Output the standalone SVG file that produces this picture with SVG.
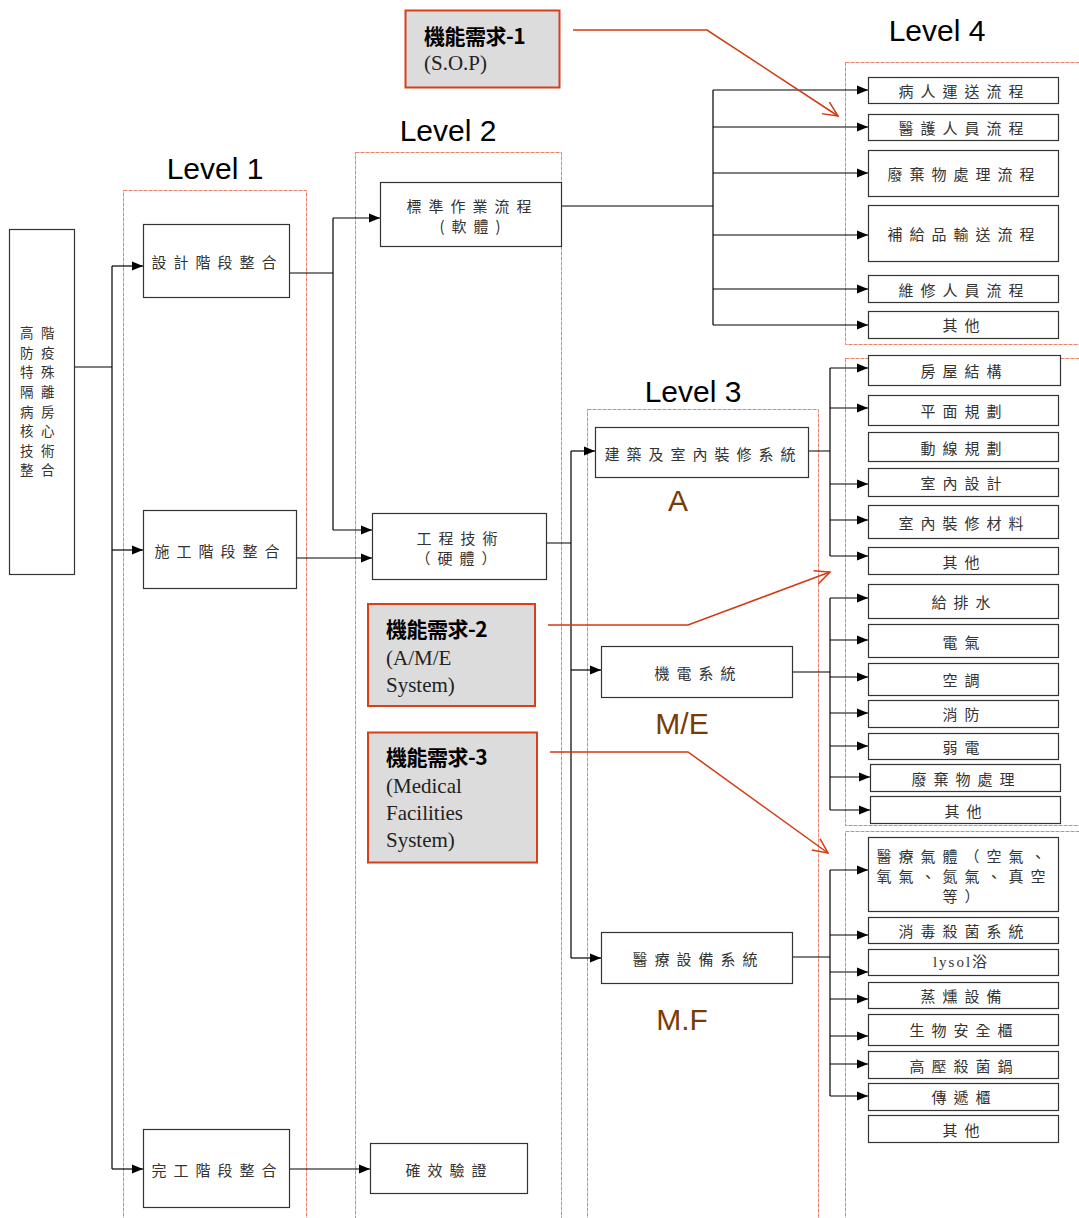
<svg xmlns="http://www.w3.org/2000/svg" width="1079" height="1218" viewBox="0 0 1079 1218">
<defs>
<marker id="ah" markerUnits="userSpaceOnUse" markerWidth="12" markerHeight="10" refX="11" refY="5" orient="auto"><path d="M0,0.5 L11,5 L0,9.5 Z" fill="#000"/></marker>
<marker id="rh" markerUnits="userSpaceOnUse" markerWidth="18" markerHeight="16" refX="15" refY="8" orient="auto"><path d="M0,1 L15,8 L0,15" fill="none" stroke="#d23a12" stroke-width="1.5"/></marker>
<style>
.frame{fill:none;stroke:#e8836d;stroke-width:1;stroke-dasharray:4 1}
.box{fill:#fff;stroke:#333;stroke-width:1.2}
.req{fill:#dcdcdc;stroke:#d6401a;stroke-width:2}
.t{font-family:"Noto Sans CJK TC","Noto Sans CJK SC",sans-serif;font-size:15px;fill:#333;letter-spacing:7px;text-anchor:middle;dominant-baseline:central}
.rt{font-family:"Noto Sans CJK TC",sans-serif;font-size:13.5px;fill:#333;letter-spacing:7.5px}
.lv{font-family:"Liberation Sans",Arial,sans-serif;font-size:30px;fill:#000;text-anchor:middle}
.sys{font-family:"Liberation Sans",Arial,sans-serif;font-size:30px;fill:#7a3c06;text-anchor:middle}
.rq{font-family:"Liberation Serif","Noto Sans CJK TC",serif;font-size:21px;fill:#222}
.rqb{font-family:"Noto Sans CJK TC",sans-serif;font-size:21px;font-weight:bold;fill:#000;letter-spacing:-0.5px}
.c{fill:none;stroke:#000;stroke-width:1.2}
.ca{fill:none;stroke:#000;stroke-width:1.2;marker-end:url(#ah)}
.r{fill:none;stroke:#d23a12;stroke-width:1.5;marker-end:url(#rh)}
</style>
</defs>
<rect width="1079" height="1218" fill="#fff"/>

<g id="frames">
<rect class="frame" x="123.5" y="190.5" width="183" height="1040"/>
<rect class="frame" x="355.5" y="152.5" width="206" height="1080"/>
<rect class="frame" x="587.5" y="409.5" width="231" height="820"/>
<rect class="frame" x="845.5" y="62.5" width="240" height="282"/>
<rect class="frame" x="845.5" y="358.5" width="240" height="467"/>
<rect class="frame" x="845.5" y="831.5" width="240" height="400"/>
<text class="lv" x="215" y="179">Level 1</text>
<text class="lv" x="448" y="141">Level 2</text>
<text class="lv" x="693" y="402">Level 3</text>
<text class="lv" x="937" y="41">Level 4</text>
<text class="sys" x="678" y="511">A</text>
<text class="sys" x="682" y="734">M/E</text>
<text class="sys" x="682" y="1030">M.F</text>
</g>

<g id="connectors">
<path class="c" d="M75,367 H112 M112,266 V1169"/>
<path class="ca" d="M112,266 H143"/>
<path class="ca" d="M112,550 H143"/>
<path class="ca" d="M112,1169 H143"/>
<path class="c" d="M290,273 H333 M333,218 V530"/>
<path class="ca" d="M333,218 H380"/>
<path class="ca" d="M333,530 H372"/>
<path class="ca" d="M296,558 H372"/>
<path class="ca" d="M290,1169 H370"/>
<path class="c" d="M561,206 H713 M713,90 V325"/>
<path class="ca" d="M713,90 H868"/>
<path class="ca" d="M713,127 H868"/>
<path class="ca" d="M713,173 H868"/>
<path class="ca" d="M713,235 H868"/>
<path class="ca" d="M713,289 H868"/>
<path class="ca" d="M713,325 H868"/>
<path class="c" d="M546,543 H571 M571,451 V958"/>
<path class="ca" d="M571,451 H595"/>
<path class="ca" d="M571,670 H601"/>
<path class="ca" d="M571,958 H601"/>
<path class="c" d="M808,451 H830 M830,368 V556"/>
<path class="ca" d="M830,368 H868"/>
<path class="ca" d="M830,408 H868"/>
<path class="ca" d="M830,484 H868"/>
<path class="ca" d="M830,520 H868"/>
<path class="ca" d="M830,556 H868"/>
<path class="c" d="M792,672 H830 M830,598 V810"/>
<path class="ca" d="M830,598 H868"/>
<path class="ca" d="M830,640 H868"/>
<path class="ca" d="M830,677 H868"/>
<path class="ca" d="M830,713 H868"/>
<path class="ca" d="M830,746 H868"/>
<path class="ca" d="M830,777 H870"/>
<path class="ca" d="M830,810 H870"/>
<path class="c" d="M792,957 H830 M830,870 V1096"/>
<path class="ca" d="M830,870 H868"/>
<path class="ca" d="M830,935 H868"/>
<path class="ca" d="M830,972 H868"/>
<path class="ca" d="M830,999 H868"/>
<path class="ca" d="M830,1036 H868"/>
<path class="ca" d="M830,1064 H868"/>
<path class="ca" d="M830,1096 H868"/>
<path class="r" d="M573,30 H707 L838,116"/>
<path class="r" d="M548,625 H688 L830,572"/>
<path class="r" d="M550,752 H688 L828,853"/>
</g>

<g id="root"><rect class="box" x="9.5" y="229.5" width="65" height="345"/>
<text class="rt" x="20" y="339"><tspan x="20" y="338">高階</tspan><tspan x="20" y="358">防疫</tspan><tspan x="20" y="377">特殊</tspan><tspan x="20" y="397">隔離</tspan><tspan x="20" y="417">病房</tspan><tspan x="20" y="436">核心</tspan><tspan x="20" y="456">技術</tspan><tspan x="20" y="475">整合</tspan></text>
</g>

<g id="l1-design"><rect class="box" x="143.5" y="224.5" width="146" height="73"/><text class="t" x="217.5" y="261">設計階段整合</text></g>
<g id="l1-build"><rect class="box" x="143.5" y="510.5" width="153" height="78"/><text class="t" x="220.5" y="550">施工階段整合</text></g>
<g id="l1-finish"><rect class="box" x="143.5" y="1129.5" width="146" height="78"/><text class="t" x="217.5" y="1169">完工階段整合</text></g>

<g id="l2-sop"><rect class="box" x="380.5" y="182.5" width="181" height="64"/><text class="t" x="472.5" y="205">標準作業流程</text><text class="t" x="473.5" y="225">(軟體)</text></g>
<g id="l2-eng"><rect class="box" x="372.5" y="513.5" width="174" height="66"/><text class="t" x="460.5" y="537">工程技術</text><text class="t" x="459.5" y="557">（硬體）</text></g>
<g id="l2-valid"><rect class="box" x="370.5" y="1143.5" width="157" height="50"/><text class="t" x="449.5" y="1169">確效驗證</text></g>

<g id="req1"><rect class="req" x="405.5" y="10.5" width="154" height="77"/><text class="rqb" x="424" y="44">機能需求-1</text><text class="rq" x="424" y="70">(S.O.P)</text></g>
<g id="req2"><rect class="req" x="368" y="604" width="167" height="102"/><text class="rqb" x="386" y="637">機能需求-2</text><text class="rq" x="386" y="665">(A/M/E</text><text class="rq" x="386" y="692">System)</text></g>
<g id="req3"><rect class="req" x="368" y="732.5" width="169" height="130"/><text class="rqb" x="386" y="765">機能需求-3</text><text class="rq" x="386" y="793">(Medical</text><text class="rq" x="386" y="820">Facilities</text><text class="rq" x="386" y="847">System)</text></g>

<g id="l3-arch"><rect class="box" x="595.5" y="427.5" width="213" height="50"/><text class="t" x="703.5" y="453">建築及室內裝修系統</text></g>
<g id="l3-me"><rect class="box" x="601.5" y="646.5" width="191" height="51"/><text class="t" x="698.5" y="672">機電系統</text></g>
<g id="l3-mf"><rect class="box" x="601.5" y="932.5" width="191" height="51"/><text class="t" x="698.5" y="958">醫療設備系統</text></g>

<g id="l4-sop-1"><rect class="box" x="868.5" y="77.5" width="190" height="26"/><text class="t" x="964.5" y="90">病人運送流程</text></g>
<g id="l4-sop-2"><rect class="box" x="868.5" y="114.5" width="190" height="26"/><text class="t" x="964.5" y="127">醫護人員流程</text></g>
<g id="l4-sop-3"><rect class="box" x="868.5" y="150.5" width="190" height="46"/><text class="t" x="964.5" y="173">廢棄物處理流程</text></g>
<g id="l4-sop-4"><rect class="box" x="868.5" y="205.5" width="190" height="56"/><text class="t" x="964.5" y="233">補給品輸送流程</text></g>
<g id="l4-sop-5"><rect class="box" x="868.5" y="275.5" width="190" height="27"/><text class="t" x="964.5" y="289">維修人員流程</text></g>
<g id="l4-sop-6"><rect class="box" x="868.5" y="311.5" width="190" height="27"/><text class="t" x="964.5" y="324">其他</text></g>

<g id="l4-a-1"><rect class="box" x="868.5" y="355.5" width="192" height="30"/><text class="t" x="964.5" y="370">房屋結構</text></g>
<g id="l4-a-2"><rect class="box" x="868.5" y="395.5" width="190" height="30"/><text class="t" x="964.5" y="410">平面規劃</text></g>
<g id="l4-a-3"><rect class="box" x="868.5" y="432.5" width="190" height="29"/><text class="t" x="964.5" y="447">動線規劃</text></g>
<g id="l4-a-4"><rect class="box" x="868.5" y="468.5" width="190" height="28"/><text class="t" x="964.5" y="482">室內設計</text></g>
<g id="l4-a-5"><rect class="box" x="868.5" y="505.5" width="190" height="33"/><text class="t" x="964.5" y="522">室內裝修材料</text></g>
<g id="l4-a-6"><rect class="box" x="868.5" y="547.5" width="190" height="27"/><text class="t" x="964.5" y="561">其他</text></g>

<g id="l4-me-1"><rect class="box" x="868.5" y="584.5" width="190" height="34"/><text class="t" x="964.5" y="601">給排水</text></g>
<g id="l4-me-2"><rect class="box" x="868.5" y="624.5" width="190" height="33"/><text class="t" x="964.5" y="641">電氣</text></g>
<g id="l4-me-3"><rect class="box" x="868.5" y="663.5" width="190" height="32"/><text class="t" x="964.5" y="679">空調</text></g>
<g id="l4-me-4"><rect class="box" x="868.5" y="700.5" width="190" height="27"/><text class="t" x="964.5" y="713">消防</text></g>
<g id="l4-me-5"><rect class="box" x="868.5" y="733.5" width="190" height="26"/><text class="t" x="964.5" y="746">弱電</text></g>
<g id="l4-me-6"><rect class="box" x="870.5" y="764.5" width="190" height="27"/><text class="t" x="966.5" y="778">廢棄物處理</text></g>
<g id="l4-me-7"><rect class="box" x="870.5" y="796.5" width="190" height="27"/><text class="t" x="966.5" y="810">其他</text></g>

<g id="l4-mf-1"><rect class="box" x="868.5" y="837.5" width="190" height="74"/><text class="t" x="964.5" y="855"><tspan x="964.5" y="855">醫療氣體（空氣、</tspan><tspan x="964.5" y="875">氧氣、氮氣、真空</tspan><tspan x="964.5" y="895">等）</tspan></text></g>
<g id="l4-mf-2"><rect class="box" x="868.5" y="917.5" width="190" height="26"/><text class="t" x="964.5" y="930">消毒殺菌系統</text></g>
<g id="l4-mf-3"><rect class="box" x="868.5" y="949.5" width="190" height="26"/><text class="t" x="961" y="962" style="font-family:'Liberation Serif','Noto Sans CJK TC',serif;letter-spacing:2px">lysol浴</text></g>
<g id="l4-mf-4"><rect class="box" x="868.5" y="982.5" width="190" height="26"/><text class="t" x="964.5" y="995">蒸燻設備</text></g>
<g id="l4-mf-5"><rect class="box" x="868.5" y="1014.5" width="190" height="31"/><text class="t" x="964.5" y="1029">生物安全櫃</text></g>
<g id="l4-mf-6"><rect class="box" x="868.5" y="1051.5" width="190" height="27"/><text class="t" x="964.5" y="1065">高壓殺菌鍋</text></g>
<g id="l4-mf-7"><rect class="box" x="868.5" y="1083.5" width="190" height="27"/><text class="t" x="964.5" y="1096">傳遞櫃</text></g>
<g id="l4-mf-8"><rect class="box" x="868.5" y="1115.5" width="190" height="27"/><text class="t" x="964.5" y="1129">其他</text></g>
</svg>
